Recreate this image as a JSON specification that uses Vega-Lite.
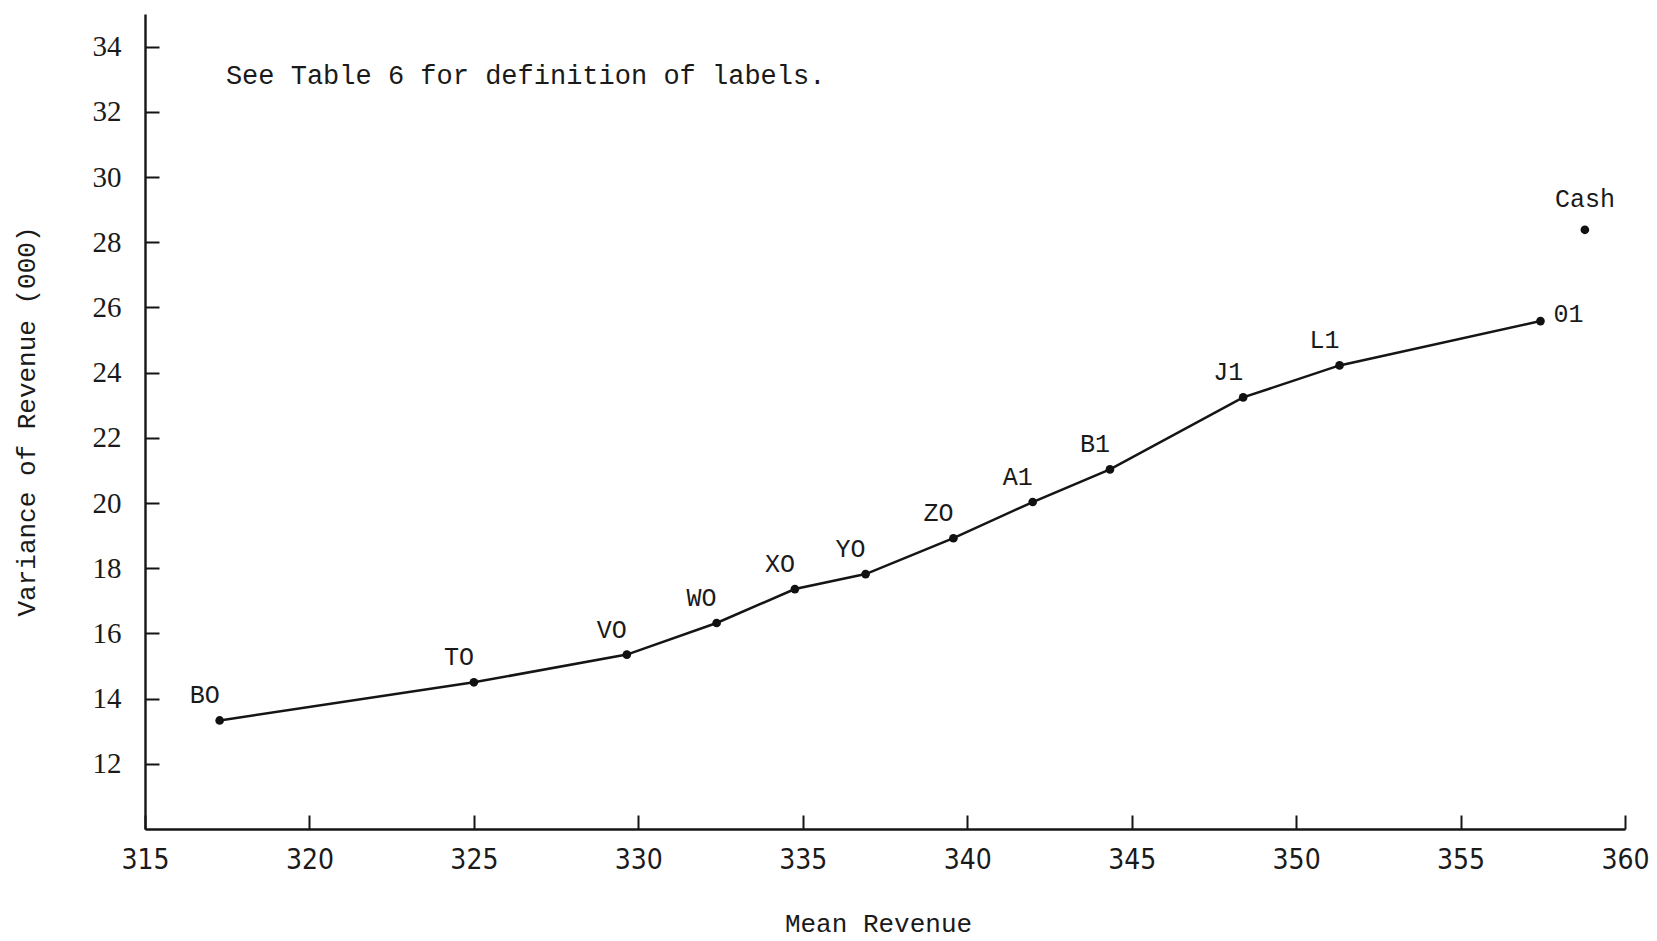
{
  "$schema": "https://vega.github.io/schema/vega-lite/v6.json",
  "width": 1480,
  "height": 815,
  "autosize": {"type": "none"},
  "padding": {"left": 145, "top": 14, "right": 32, "bottom": 112},
  "background": "white",
  "config": {"view": {"stroke": null}},
  "datasets": {
    "pts": [
      {"label": "BO", "mean": 317.27, "variance": 13.33},
      {"label": "TO", "mean": 325.0, "variance": 14.5},
      {"label": "VO", "mean": 329.65, "variance": 15.35},
      {"label": "WO", "mean": 332.38, "variance": 16.32},
      {"label": "XO", "mean": 334.76, "variance": 17.36},
      {"label": "YO", "mean": 336.91, "variance": 17.82},
      {"label": "ZO", "mean": 339.58, "variance": 18.92},
      {"label": "A1", "mean": 341.99, "variance": 20.03},
      {"label": "B1", "mean": 344.34, "variance": 21.03},
      {"label": "J1", "mean": 348.39, "variance": 23.24},
      {"label": "L1", "mean": 351.32, "variance": 24.22},
      {"label": "01", "mean": 357.43, "variance": 25.58},
      {"label": "Cash", "mean": 358.78, "variance": 28.38}
    ],
    "note": [
      {"mean": 317.46, "variance": 33.1, "text": "See Table 6 for definition of labels."}
    ]
  },
  "layer": [
    {
      "data": {"name": "pts"},
      "transform": [{"filter": "datum.label !== 'Cash'"}],
      "mark": {"type": "line", "color": "#151515", "strokeWidth": 2.5},
      "encoding": {
        "x": {
          "field": "mean", "type": "quantitative",
          "scale": {"domain": [315, 360], "nice": false, "zero": false},
          "axis": {
            "title": "Mean Revenue",
            "values": [315, 320, 325, 330, 335, 340, 345, 350, 355, 360],
            "grid": false,
            "tickSize": -14, "tickWidth": 2, "tickColor": "#151515",
            "domainColor": "#151515", "domainWidth": 2.4,
            "labelFont": "DejaVu Sans Condensed", "labelFontSize": 28, "labelColor": "#1a1a1a",
            "labelPadding": 31, "labelFlush": false, "labelOverlap": false,
            "titleFont": "Liberation Mono", "titleFontSize": 26, "titleFontWeight": "normal", "titleColor": "#1a1a1a",
            "titleX": 733, "titleY": 94, "titleAlign": "center", "titleBaseline": "middle", "titleAnchor": null
          }
        },
        "y": {
          "field": "variance", "type": "quantitative",
          "scale": {"domain": [10, 35], "nice": false, "zero": false},
          "axis": {
            "title": "Variance of Revenue (000)",
            "values": [12, 14, 16, 18, 20, 22, 24, 26, 28, 30, 32, 34],
            "grid": false,
            "tickSize": -14, "tickWidth": 2, "tickColor": "#151515",
            "domainColor": "#151515", "domainWidth": 2.4,
            "labelFont": "Liberation Serif", "labelFontSize": 29, "labelColor": "#1a1a1a",
            "labelPadding": 38, "labelFlush": false, "labelOverlap": false,
            "titleFont": "Liberation Mono", "titleFontSize": 26, "titleFontWeight": "normal", "titleColor": "#1a1a1a",
            "titleAngle": -90, "titleX": -119, "titleY": 407, "titleAlign": "center", "titleBaseline": "middle", "titleAnchor": null
          }
        }
      }
    },
    {
      "data": {"name": "pts"},
      "mark": {"type": "point", "filled": true, "color": "#111", "size": 75, "opacity": 1},
      "encoding": {
        "x": {"field": "mean", "type": "quantitative"},
        "y": {"field": "variance", "type": "quantitative"}
      }
    },
    {
      "data": {"name": "pts"},
      "transform": [{"filter": "datum.label !== 'Cash' && datum.label !== '01'"}],
      "mark": {"type": "text", "font": "Liberation Mono", "fontSize": 25, "color": "#1a1a1a", "align": "center", "baseline": "middle", "dx": -15, "dy": -25},
      "encoding": {
        "x": {"field": "mean", "type": "quantitative"},
        "y": {"field": "variance", "type": "quantitative"},
        "text": {"field": "label"}
      }
    },
    {
      "data": {"name": "pts"},
      "transform": [{"filter": "datum.label === '01'"}],
      "mark": {"type": "text", "font": "Liberation Mono", "fontSize": 25, "color": "#1a1a1a", "align": "left", "baseline": "middle", "dx": 13, "dy": -7},
      "encoding": {
        "x": {"field": "mean", "type": "quantitative"},
        "y": {"field": "variance", "type": "quantitative"},
        "text": {"field": "label"}
      }
    },
    {
      "data": {"name": "pts"},
      "transform": [{"filter": "datum.label === 'Cash'"}],
      "mark": {"type": "text", "font": "Liberation Mono", "fontSize": 25, "color": "#1a1a1a", "align": "center", "baseline": "middle", "dy": -31},
      "encoding": {
        "x": {"field": "mean", "type": "quantitative"},
        "y": {"field": "variance", "type": "quantitative"},
        "text": {"field": "label"}
      }
    },
    {
      "data": {"name": "note"},
      "mark": {"type": "text", "font": "Liberation Mono", "fontSize": 27, "color": "#1a1a1a", "align": "left", "baseline": "middle"},
      "encoding": {
        "x": {"field": "mean", "type": "quantitative"},
        "y": {"field": "variance", "type": "quantitative"},
        "text": {"field": "text"}
      }
    }
  ]
}
